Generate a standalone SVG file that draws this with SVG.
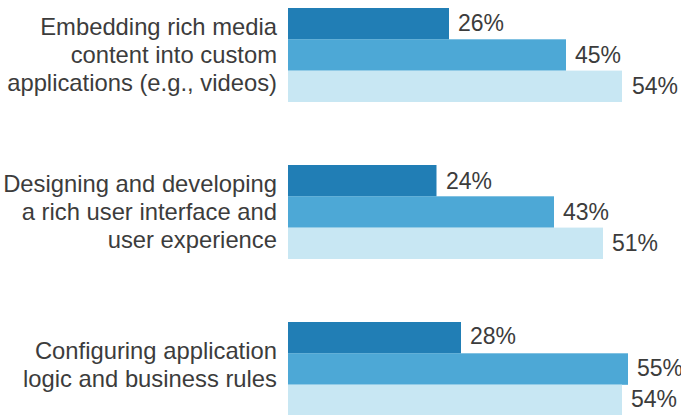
<svg xmlns="http://www.w3.org/2000/svg" width="681" height="415" viewBox="0 0 681 415">
<style>
text{font-family:"Liberation Sans",Arial,sans-serif;font-size:23px;fill:#3c3c3c}
.cat{text-anchor:end;font-size:23.8px}
.b1{fill:#217eb5}
.b2{fill:#4da8d6}
.b3{fill:#c8e7f3}
</style>
<rect width="681" height="415" fill="#ffffff"/>
<g id="group1">
<text class="cat" x="277" y="35">Embedding rich media</text>
<text class="cat" x="277" y="63">content into custom</text>
<text class="cat" x="277" y="91">applications (e.g., videos)</text>
<rect class="b1" x="288" y="8" width="161" height="31.5"/>
<rect class="b2" x="288" y="39.3" width="278" height="31.5"/>
<rect class="b3" x="288" y="70.6" width="334" height="31.4"/>
<text x="458" y="31">26%</text>
<text x="575" y="62.5">45%</text>
<text x="632" y="94">54%</text>
</g>
<g id="group2">
<text class="cat" x="277" y="192">Designing and developing</text>
<text class="cat" x="277" y="220">a rich user interface and</text>
<text class="cat" x="277" y="248">user experience</text>
<rect class="b1" x="288" y="165" width="148.5" height="31.5"/>
<rect class="b2" x="288" y="196.3" width="266" height="31.5"/>
<rect class="b3" x="288" y="227.6" width="315" height="31.4"/>
<text x="446" y="188.5">24%</text>
<text x="563" y="220">43%</text>
<text x="612" y="251">51%</text>
</g>
<g id="group3">
<text class="cat" x="277" y="359">Configuring application</text>
<text class="cat" x="277" y="387">logic and business rules</text>
<rect class="b1" x="288" y="322" width="173" height="31.5"/>
<rect class="b2" x="288" y="353.3" width="340" height="31.5"/>
<rect class="b3" x="288" y="384.6" width="334" height="31.4"/>
<text x="470" y="344">28%</text>
<text x="637" y="376">55%</text>
<text x="631" y="407">54%</text>
</g>
<g id="connectors"></g>
</svg>
